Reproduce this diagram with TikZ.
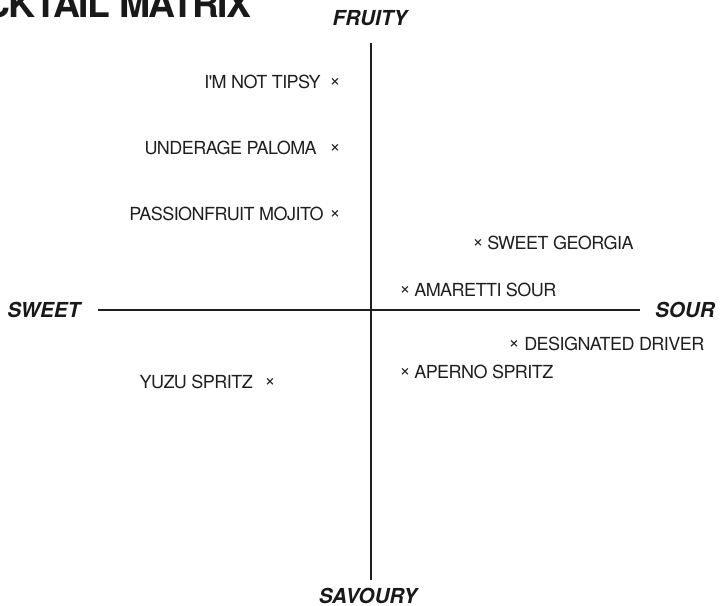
\documentclass[tikz,border=0pt]{standalone}
\usepackage{fontspec}
\setmainfont{TeX Gyre Heros}
\newfontfamily\itemfont[LetterSpace=-3]{TeX Gyre Heros}
\newfontfamily\titlefont[LetterSpace=-4]{TeX Gyre Heros}
\begin{document}
\begin{tikzpicture}[x=0.75pt,y=-0.75pt,
  item/.style={inner sep=0pt, text=black!88, font=\itemfont\fontsize{13.5}{16}\selectfont},
  mk/.style={inner sep=0pt, text=black!88, font=\fontsize{14}{16}\selectfont},
  axlabel/.style={inner sep=0pt, text=black!90, font=\bfseries\itshape\fontsize{15.5}{18}\selectfont},
  axis/.style={line width=1.4pt, draw=black!88},
  titlestyle/.style={inner sep=0pt, text=black!90, font=\titlefont\bfseries\fontsize{28}{32}\selectfont}]
\useasboundingbox (0,0) rectangle (721,606);
\clip (0,0) rectangle (721,606);
% title
\node[titlestyle, anchor=base east] (title) at (252,18) {COCKTAIL MATRIX};
% axis labels
\node[axlabel] (fruity) at (370,18) {FRUITY};
\node[axlabel] (savoury) at (368,596) {SAVOURY};
\node[axlabel, anchor=west] (sweet) at (7,310) {SWEET};
\node[axlabel, anchor=east] (sour) at (715,310) {SOUR};
% axes
\coordinate (vtop) at (371,43);
\coordinate (vbot) at (371,580);
\coordinate (hleft) at (98,310);
\coordinate (hright) at (640,310);
\draw[axis] (vtop) -- (vbot);
\draw[axis] (hleft) -- (hright);
% left items
\node[item, anchor=base east] (tipsy) at (321,88.5) {I'M NOT TIPSY};
\node[mk] (mtipsy) at (335,82) {×};
\node[item, anchor=base east] (paloma) at (317,154.5) {UNDERAGE PALOMA};
\node[mk] (mpaloma) at (335,148) {×};
\node[item, anchor=base east] (mojito) at (324,220.5) {PASSIONFRUIT MOJITO};
\node[mk] (mmojito) at (335,214) {×};
\node[item, anchor=base east] (yuzu) at (253,388.5) {YUZU SPRITZ};
\node[mk] (myuzu) at (270,382) {×};
% right items
\node[mk] (mgeorgia) at (478,243) {×};
\node[item, anchor=base west] (georgia) at (487,249.5) {SWEET GEORGIA};
\node[mk] (mamaretti) at (405,290) {×};
\node[item, anchor=base west] (amaretti) at (414,296.5) {AMARETTI SOUR};
\node[mk] (mdriver) at (514,344) {×};
\node[item, anchor=base west] (driver) at (524,350.5) {DESIGNATED DRIVER};
\node[mk] (maperno) at (405,372) {×};
\node[item, anchor=base west] (aperno) at (414,378.5) {APERNO SPRITZ};
\end{tikzpicture}
\end{document}
